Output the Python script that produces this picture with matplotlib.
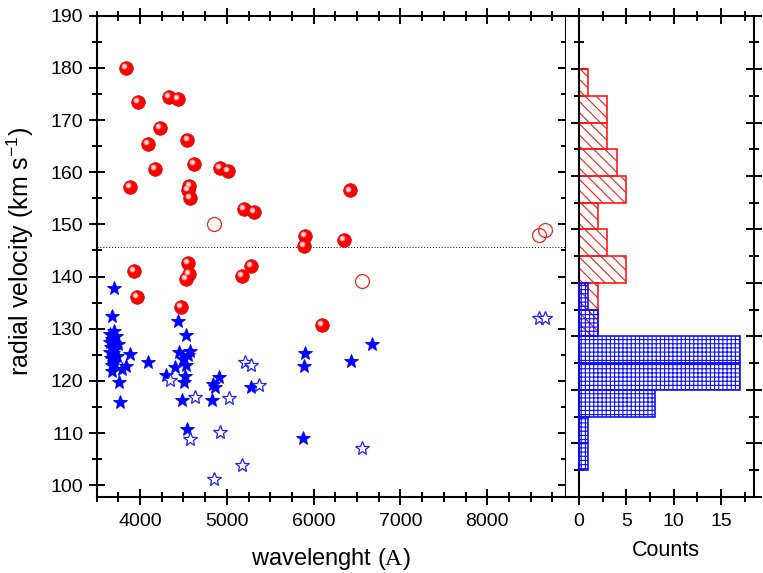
import matplotlib
matplotlib.use("Agg")
import matplotlib.pyplot as plt
from matplotlib.ticker import MultipleLocator, NullFormatter
from matplotlib.transforms import offset_copy
import numpy as np

plt.rcParams['font.family'] = ['Liberation Sans', 'DejaVu Sans']
plt.rcParams['mathtext.fontset'] = 'custom'
plt.rcParams['mathtext.rm'] = 'Liberation Sans'
plt.rcParams['mathtext.sf'] = 'Liberation Serif'
plt.rcParams['hatch.linewidth'] = 0.8

# red lines, filled symbols
red_x = [3835, 3974, 4334, 4442, 4231, 4096, 4546, 4177, 4626, 4919,
         5015, 3885, 4569, 4554, 4580, 5192, 5311, 5895, 5888, 6345,
         6422, 4550, 3935, 4565, 4531, 5277, 5173, 3969, 4476, 6095]
red_y = [180.0, 173.4, 174.4, 174.0, 168.4, 165.5, 166.1, 160.6, 161.6, 160.9,
         160.3, 157.1, 157.4, 156.6, 155.0, 152.9, 152.4, 147.8, 145.8, 147.0,
         156.5, 142.6, 141.0, 140.5, 139.6, 142.0, 140.1, 136.0, 134.2, 130.8]
# red lines, open symbols
red_open_x = [4857, 6557, 8596, 8666]
red_open_y = [150.1, 139.1, 148.0, 149.0]

# blue lines, filled stars
blue_x = [3704, 3674, 3885, 4096, 3835, 3789, 3680, 3754, 3769, 4442,
          4531, 4453, 4577, 4557, 4499, 4527, 4404, 4300, 4519, 4507,
          4481, 4546, 4827, 4911, 4845, 4865, 5277, 5895, 5884, 5872,
          6434, 6672,
          3700, 3655, 3725, 3680, 3650, 3705, 3740, 3665, 3715, 3650,
          3690, 3730, 3665, 3700, 3680]
blue_y = [137.8, 132.5, 125.2, 123.6, 122.9, 122.3, 121.8, 119.8, 116.0, 131.4,
          128.7, 125.5, 125.7, 124.9, 124.1, 123.0, 122.6, 121.2, 120.9, 119.8,
          116.4, 110.7, 116.4, 120.7, 119.4, 118.9, 118.9, 125.3, 122.8, 109.1,
          123.9, 127.1,
          129.6, 128.9, 128.6, 128.0, 127.5, 127.3, 127.0, 126.5, 126.1, 125.6,
          125.3, 124.7, 124.3, 123.7, 123.1]
# blue lines, open stars
blue_open_x = [4346, 4627, 5019, 5203, 5277, 5365, 4923, 4577, 5173, 4857,
               6557, 8596, 8666]
blue_open_y = [120.1, 117.0, 116.8, 123.7, 123.1, 119.3, 110.2, 108.9, 103.8, 101.2,
               107.1, 132.0, 132.0]

# histogram (bins of 5 km/s from 100 to 190)
bin_edges = np.arange(100, 190, 5)
hist_red = np.array([0, 0, 0, 0, 0, 0, 2, 2, 5, 3, 2, 5, 4, 3, 3, 1, 0, 0])
hist_blue = np.array([0, 1, 1, 8, 17, 17, 2, 1, 0, 0, 0, 0, 0, 0, 0, 0, 0, 0])

v_mean = 145.6

fig = plt.figure(figsize=(7.63, 5.73), dpi=100)
ax1 = fig.add_axes([0.1267, 0.1332, 0.6147, 0.8394])
ax2 = fig.add_axes([0.7414, 0.1332, 0.2468, 0.8394])

# scatter panel
ax1.axhline(v_mean, color='k', ls=(0, (1, 2)), lw=0.7, zorder=1)
ax1.plot(blue_x, blue_y, '*', color='#0000ff', ms=10, mec='#0000ff', mew=0.6, zorder=3)
ax1.plot(blue_open_x, blue_open_y, '*', color='#2020ff', mfc='white', ms=10, mew=0.9, zorder=3)
ax1.plot(red_x, red_y, 'o', color='#ff0000', ms=9.8, mec='#d00000', mew=0.5, zorder=4)
# highlight so the balls look shiny
shine = offset_copy(ax1.transData, fig=fig, x=-1.4, y=1.4, units='points')
ax1.plot(red_x, red_y, 'o', color='#ff9a9a', ms=4.2, mew=0, transform=shine, zorder=5)
ax1.plot(red_x, red_y, 'o', color='#ffe6e6', ms=2.2, mew=0, transform=shine, zorder=6)
ax1.plot(red_open_x, red_open_y, 'o', mfc='none', mec='#ff2020', ms=10, mew=0.9, zorder=4)

ax1.set_xlim(3500, 8903)
ax1.set_ylim(97.8, 190)
ax1.xaxis.set_major_locator(MultipleLocator(1000))
ax1.xaxis.set_minor_locator(MultipleLocator(250))
ax1.yaxis.set_major_locator(MultipleLocator(10))
ax1.yaxis.set_minor_locator(MultipleLocator(5))
ax1.set_xlabel(r'wavelenght ($\mathsf{A}$)', fontsize=17, va='center')
ax1.xaxis.set_label_coords(0.5, -0.13)
ax1.set_ylabel(r'radial velocity (km s$^{\mathregular{-1}}$)', fontsize=18, va='center')
ax1.yaxis.set_label_coords(-0.163, 0.51)

# histogram panel, only bins that have counts
m = hist_red > 0
ax2.barh(bin_edges[m], hist_red[m], height=5, align='edge', facecolor='none',
         edgecolor='#ff1a1a', lw=1.2, hatch='\\\\\\', zorder=2)
m = hist_blue > 0
ax2.barh(bin_edges[m], hist_blue[m], height=5, align='edge', facecolor='none',
         edgecolor='#1010ff', lw=1.2, hatch='++++', zorder=3)
ax2.set_xlim(-1.41, 18.5)
ax2.set_ylim(100, 190)
ax2.spines['left'].set_position(('data', 0))
ax2.xaxis.set_major_locator(MultipleLocator(5))
ax2.xaxis.set_minor_locator(MultipleLocator(2.5))
ax2.yaxis.set_major_locator(MultipleLocator(10))
ax2.yaxis.set_minor_locator(MultipleLocator(5))
ax2.yaxis.set_major_formatter(NullFormatter())
ax2.set_xlabel('Counts', fontsize=15.5, va='center')
ax2.xaxis.set_label_coords(0.533, -0.111)

for ax in (ax1, ax2):
    for s in ax.spines.values():
        s.set_linewidth(1.5)
    ax.tick_params(which='both', direction='inout', top=True, right=True,
                   width=1.4, labelsize=14)
    ax.tick_params(which='major', length=11)
    ax.tick_params(axis='x', which='major', pad=6)
    ax.tick_params(axis='y', which='major', pad=4)
    ax.tick_params(which='minor', length=7)

fig.savefig('out.png', dpi=100)
